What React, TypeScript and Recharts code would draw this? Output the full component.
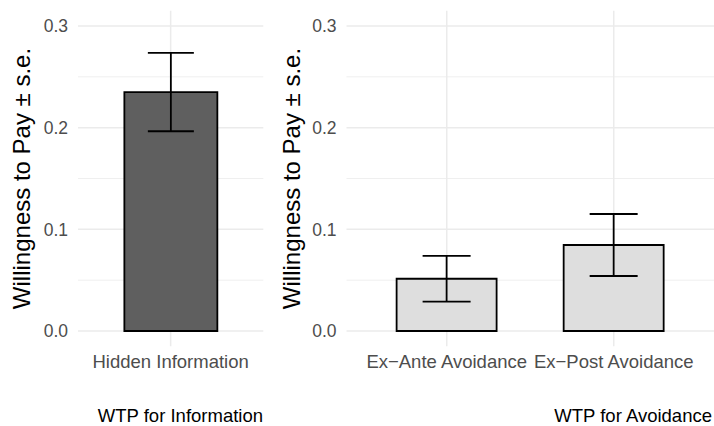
import React from 'react';
import { BarChart, Bar, XAxis, YAxis, CartesianGrid, ErrorBar } from 'recharts';

const infoCategories = ['Hidden Information'];
const infoMeans = [0.235];
const infoErrors = [0.0385];

const avoidCategories = ['Ex\u2212Ante Avoidance', 'Ex\u2212Post Avoidance'];
const avoidMeans = [0.0514, 0.0846];
const avoidErrors = [0.0225, 0.0305];

const yTicks = [0, 0.1, 0.2, 0.3];
const yMinor = [0.05, 0.15, 0.25];
const yDomain = [-0.015, 0.315];

const yTitle = 'Willingness to Pay \u00b1 s.e.';
const captions = ['WTP for Information', 'WTP for Avoidance'];

const FONT = '"Liberation Sans", Arial, Helvetica, sans-serif';

const YTick = (props: any) => {
  const { x, y, payload } = props;
  return (
    <text x={x} y={y} dy="0.36em" textAnchor="end" fontSize={17.5} fill="#4d4d4d" fontFamily={FONT}>
      {Number(payload.value).toFixed(1)}
    </text>
  );
};

const XTick = (props: any) => {
  const { x, y, payload } = props;
  return (
    <text x={x} y={y + 22} textAnchor="middle" fontSize={18.5} fill="#4d4d4d" fontFamily={FONT}>
      {payload.value}
    </text>
  );
};

const AxisTitle = (props: any) => {
  const vb = props.viewBox || {};
  const cx = vb.x + 30;
  const cy = vb.y + vb.height / 2;
  return (
    <text
      x={cx}
      y={cy}
      textAnchor="middle"
      transform={`rotate(-90, ${cx}, ${cy})`}
      fontSize={24}
      fill="#000"
      fontFamily={FONT}
    >
      {yTitle}
    </text>
  );
};

interface PanelProps {
  categories: string[];
  means: number[];
  errors: number[];
  fill: string;
  width: number;
  axisWidth: number;
  rightMargin: number;
  pad: number;
  capWidth: number;
}

const Panel: React.FC<PanelProps> = ({ categories, means, errors, fill, width, axisWidth, rightMargin, pad, capWidth }) => {
  const data = categories.map((name, i) => ({ name, value: means[i], se: errors[i] }));

  // vertical grid lines through the middle of each category band
  const centerLines = (p: any) => {
    try {
      const s = p && p.xAxis && p.xAxis.scale;
      if (!s) return [];
      const mapFn = typeof s === 'function' ? (v: any) => s(v) : typeof s.map === 'function' ? (v: any) => s.map(v) : null;
      if (!mapFn) return [];
      const bw = typeof s.bandwidth === 'function' ? s.bandwidth() : 0;
      const pts = categories.map(c => Number(mapFn(c)) + bw / 2);
      return pts.every(v => Number.isFinite(v)) ? pts : [];
    } catch (e) {
      return [];
    }
  };

  return (
    <BarChart
      width={width}
      height={426}
      data={data}
      margin={{ top: 10.75, right: rightMargin, bottom: 49.75, left: 0 }}
      barCategoryGap="20%"
    >
      <CartesianGrid horizontalValues={yMinor} vertical={false} stroke="#ebebeb" strokeWidth={0.8} />
      <CartesianGrid
        horizontalValues={yTicks}
        verticalCoordinatesGenerator={centerLines}
        stroke="#ebebeb"
        strokeWidth={1.5}
      />
      <XAxis
        dataKey="name"
        height={30}
        tickLine={false}
        axisLine={false}
        tickSize={0}
        tickMargin={0}
        padding={{ left: pad, right: pad }}
        tick={<XTick />}
        interval={0}
      />
      <YAxis
        type="number"
        domain={yDomain}
        ticks={yTicks}
        width={axisWidth}
        tickLine={false}
        axisLine={false}
        tickSize={0}
        tickMargin={10}
        tick={<YTick />}
        allowDataOverflow
        label={<AxisTitle />}
      />
      <Bar dataKey="value" fill={fill} stroke="#000" strokeWidth={1.8} isAnimationActive={false}>
        <ErrorBar dataKey="se" width={capWidth} stroke="#000" strokeWidth={1.8} direction="y" isAnimationActive={false} />
      </Bar>
    </BarChart>
  );
};

export default function App() {
  return (
    <div style={{ position: 'fixed', left: 0, top: 0, width: 714, height: 426, background: '#fff', fontFamily: FONT }}>
      <div style={{ position: 'absolute', left: 0, top: 0 }}>
        <Panel
          categories={infoCategories}
          means={infoMeans}
          errors={infoErrors}
          fill="#5f5f5f"
          width={270}
          axisWidth={78}
          rightMargin={6.7}
          pad={15.5}
          capWidth={23}
        />
      </div>
      <div style={{ position: 'absolute', left: 270, top: 0 }}>
        <Panel
          categories={avoidCategories}
          means={avoidMeans}
          errors={avoidErrors}
          fill="#dedede"
          width={444}
          axisWidth={76.5}
          rightMargin={0}
          pad={16.7}
          capWidth={24}
        />
      </div>
      <svg width={714} height={426} style={{ position: 'absolute', left: 0, top: 0, pointerEvents: 'none' }}>
        <text x={263} y={422} textAnchor="end" fontSize={18.5} fill="#000" fontFamily={FONT}>
          {captions[0]}
        </text>
        <text x={712} y={422} textAnchor="end" fontSize={18.5} fill="#000" fontFamily={FONT}>
          {captions[1]}
        </text>
      </svg>
    </div>
  );
}
